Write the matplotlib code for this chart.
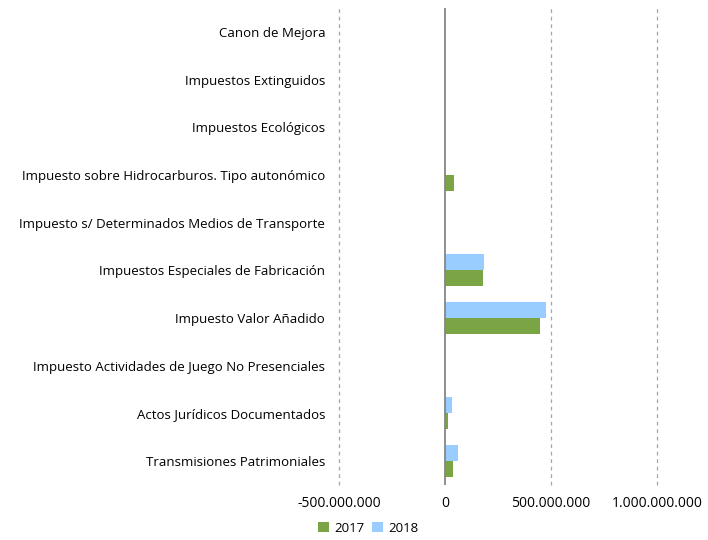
import matplotlib
matplotlib.use("Agg")
import matplotlib.pyplot as plt
import numpy as np
from matplotlib.ticker import FuncFormatter

# categories bottom -> top
categories = [
    "Transmisiones Patrimoniales",
    "Actos Jurídicos Documentados",
    "Impuesto Actividades de Juego No Presenciales",
    "Impuesto Valor Añadido",
    "Impuestos Especiales de Fabricación",
    "Impuesto s/ Determinados Medios de Transporte",
    "Impuesto sobre Hidrocarburos. Tipo autonómico",
    "Impuestos Ecológicos",
    "Impuestos Extinguidos",
    "Canon de Mejora",
]
values_2017 = [38e6, 14e6, 0.3e6, 448e6, 178e6, 1.0e6, 42e6, 0.8e6, 0.1e6, 0.8e6]
values_2018 = [61e6, 33e6, 0.3e6, 475e6, 182e6, 0.2e6, 0.0, 0.8e6, 0.0, 0.8e6]
x_ticks = [-500e6, 0, 500e6, 1000e6]

plt.rcParams["font.family"] = ["Open Sans", "DejaVu Sans"]

fig = plt.figure(figsize=(7.08, 5.40), dpi=100)
ax = fig.add_axes([0.479, 0.102, 0.449, 0.883])

y = np.arange(len(categories))
h = 0.335
ax.barh(y - h / 2, values_2017, height=h, color="#7BA545", label="2017", zorder=3)
ax.barh(y + h / 2, values_2018, height=h, color="#99CCFF", label="2018", zorder=3)

ax.set_xlim(-500e6, 1000e6)
ax.set_ylim(-0.5, len(categories) - 0.5)
ax.set_xticks(x_ticks)
ax.xaxis.set_major_formatter(
    FuncFormatter(lambda v, p: f"{v:,.0f}".replace(",", "."))
)
ax.set_yticks(y)
ax.set_yticklabels(categories, fontsize=9.5)

for v in x_ticks:
    if v == 0:
        ax.axvline(v, color="#868686", lw=1.3, zorder=4)
    else:
        ax.axvline(v, color="#A6A6A6", lw=0.9, ls=(0, (3, 3)), zorder=1,
                   clip_on=False)

for s in ax.spines.values():
    s.set_visible(False)
ax.tick_params(axis="y", length=0, pad=10)
ax.tick_params(axis="x", length=0, pad=8, labelsize=10)

fig.legend(
    loc="lower center", bbox_to_anchor=(0.52, -0.012), ncol=2, frameon=False,
    fontsize=9.5, handlelength=0.8, handleheight=0.8, columnspacing=0.6,
    handletextpad=0.4,
)

fig.savefig("out.png", dpi=100)
